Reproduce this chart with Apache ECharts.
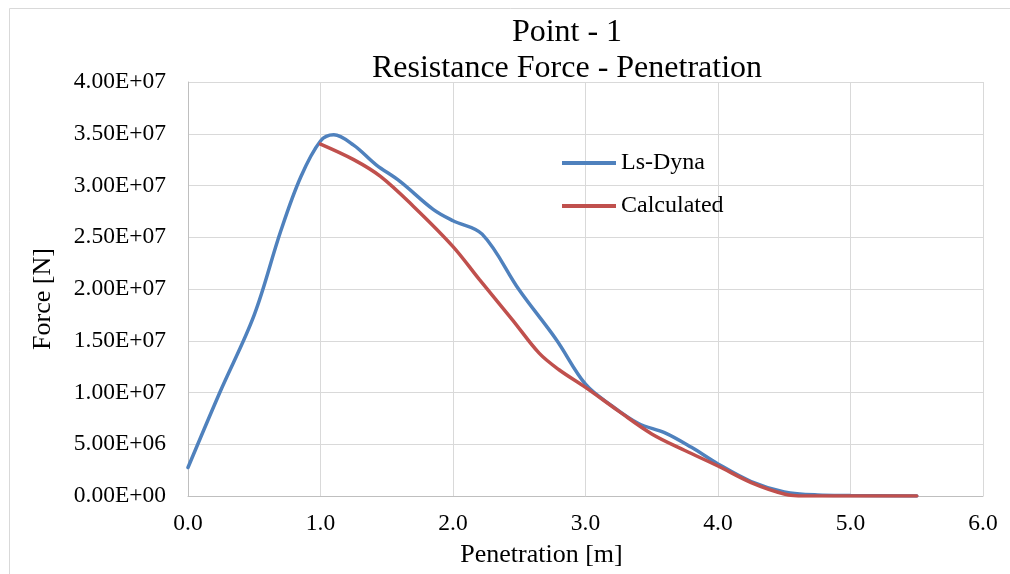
<!DOCTYPE html>
<html>
<head>
<meta charset="utf-8">
<script src="https://cdn.jsdelivr.net/npm/echarts@6/dist/echarts.min.js"></script>
<style>
  html, body { margin: 0; padding: 0; background: #fff; }
  #chart-container { width: 1010px; height: 574px; }
</style>
</head>
<body>
<div id="chart-container"></div>
<script>
// Ls-Dyna curve, penetration [m] and force [N]
const lsDynaX = [0.0, 0.24, 0.5, 0.7, 0.85, 1.0, 1.1, 1.25, 1.42, 1.6, 1.85, 2.0, 2.22, 2.5, 2.78, 3.0, 3.2, 3.4, 3.6, 3.8, 4.0, 4.25, 4.5, 4.75, 5.0, 5.5];
const lsDynaY = [2.75e6, 1.0e7, 1.75e7, 2.56e7, 3.08e7, 3.43e7, 3.49e7, 3.39e7, 3.2e7, 3.04e7, 2.77e7, 2.66e7, 2.53e7, 1.99e7, 1.51e7, 1.08e7, 8.7e6, 7.0e6, 6.1e6, 4.7e6, 3.1e6, 1.4e6, 4e5, 1e5, 5e4, 0];

// Calculated curve
const calcX = [1.0, 1.25, 1.45, 1.7, 2.0, 2.2, 2.45, 2.65, 2.8, 3.0, 3.25, 3.5, 3.75, 4.0, 4.25, 4.5, 4.65, 5.0, 5.5];
const calcY = [3.4e7, 3.25e7, 3.09e7, 2.8e7, 2.41e7, 2.09e7, 1.7e7, 1.38e7, 1.22e7, 1.05e7, 8.2e6, 6.0e6, 4.4e6, 2.9e6, 1.3e6, 2e5, 0, 0, 0];

const seriesNames = ['Ls-Dyna', 'Calculated'];
const seriesColors = ['#4f81bd', '#c0504d'];

const xTicks = [0, 1, 2, 3, 4, 5, 6];

function zip(xs, ys) {
    return xs.map(function (x, i) { return [x, ys[i]]; });
}

// Excel style scientific label, e.g. 3.50E+07
function sciLabel(v) {
    if (v === 0) return '0.00E+00';
    let e = Math.floor(Math.log10(Math.abs(v)) + 1e-9);
    let m = v / Math.pow(10, e);
    return m.toFixed(2) + 'E' + (e < 0 ? '-' : '+') + String(Math.abs(e)).padStart(2, '0');
}

const chartDom = document.getElementById('chart-container');
const myChart = echarts.init(chartDom, null, { renderer: 'canvas' });

const font = '"Liberation Serif", "DejaVu Serif", serif';

const option = {
    backgroundColor: '#ffffff',
    animation: false,
    textStyle: { fontFamily: font, color: '#000' },
    graphic: [
        {
            // chart area border (only top and left are inside the picture)
            type: 'rect',
            left: 7, top: 6,
            shape: { width: 1100, height: 700 },
            style: { fill: 'none', stroke: '#d9d9d9', lineWidth: 1 },
            silent: true
        }
    ],
    title: {
        text: 'Point - 1\nResistance Force - Penetration',
        left: 562,
        top: 10,
        textAlign: 'center',
        textStyle: { fontFamily: font, fontSize: 32, fontWeight: 'normal', color: '#000', lineHeight: 36 }
    },
    legend: {
        orient: 'vertical',
        left: 557,
        top: 146,
        icon: 'rect',
        itemWidth: 54,
        itemHeight: 4,
        itemGap: 19,
        data: seriesNames,
        textStyle: { fontFamily: font, fontSize: 24, color: '#000', lineHeight: 24 }
    },
    grid: { left: 188, right: 27, top: 82, bottom: 78, containLabel: false },
    xAxis: {
        type: 'value',
        min: xTicks[0],
        max: xTicks[xTicks.length - 1],
        interval: 1,
        name: 'Penetration [m]',
        nameLocation: 'middle',
        nameGap: 46,
        nameTextStyle: { fontFamily: font, fontSize: 26, color: '#000', padding: [0, 88, 0, 0] },
        axisLine: { show: true, lineStyle: { color: '#bfbfbf', width: 1 } },
        axisTick: { show: false },
        axisLabel: {
            fontFamily: font, fontSize: 23.5, color: '#000', margin: 16,
            formatter: function (v) { return v.toFixed(1); }
        },
        splitLine: { show: true, lineStyle: { color: '#d9d9d9', width: 1 } }
    },
    yAxis: {
        type: 'value',
        min: 0,
        max: 4e7,
        interval: 5e6,
        name: 'Force [N]',
        nameLocation: 'middle',
        nameRotate: 90,
        nameGap: 132,
        nameTextStyle: { fontFamily: font, fontSize: 26, color: '#000', padding: [0, 20, 0, 0] },
        axisLine: { show: true, lineStyle: { color: '#bfbfbf', width: 1 } },
        axisTick: { show: false },
        axisLabel: {
            fontFamily: font, fontSize: 23.5, color: '#000', margin: 22,
            formatter: sciLabel
        },
        splitLine: { show: true, lineStyle: { color: '#d9d9d9', width: 1 } }
    },
    series: [
        {
            name: seriesNames[0],
            type: 'line',
            data: zip(lsDynaX, lsDynaY),
            smooth: 0.35,
            symbol: 'none',
            color: seriesColors[0],
            lineStyle: { color: seriesColors[0], width: 3.5, cap: 'round' }
        },
        {
            name: seriesNames[1],
            type: 'line',
            data: zip(calcX, calcY),
            smooth: 0.35,
            symbol: 'none',
            color: seriesColors[1],
            lineStyle: { color: seriesColors[1], width: 3.5, cap: 'round' }
        }
    ]
};

myChart.setOption(option);
</script>
</body>
</html>
